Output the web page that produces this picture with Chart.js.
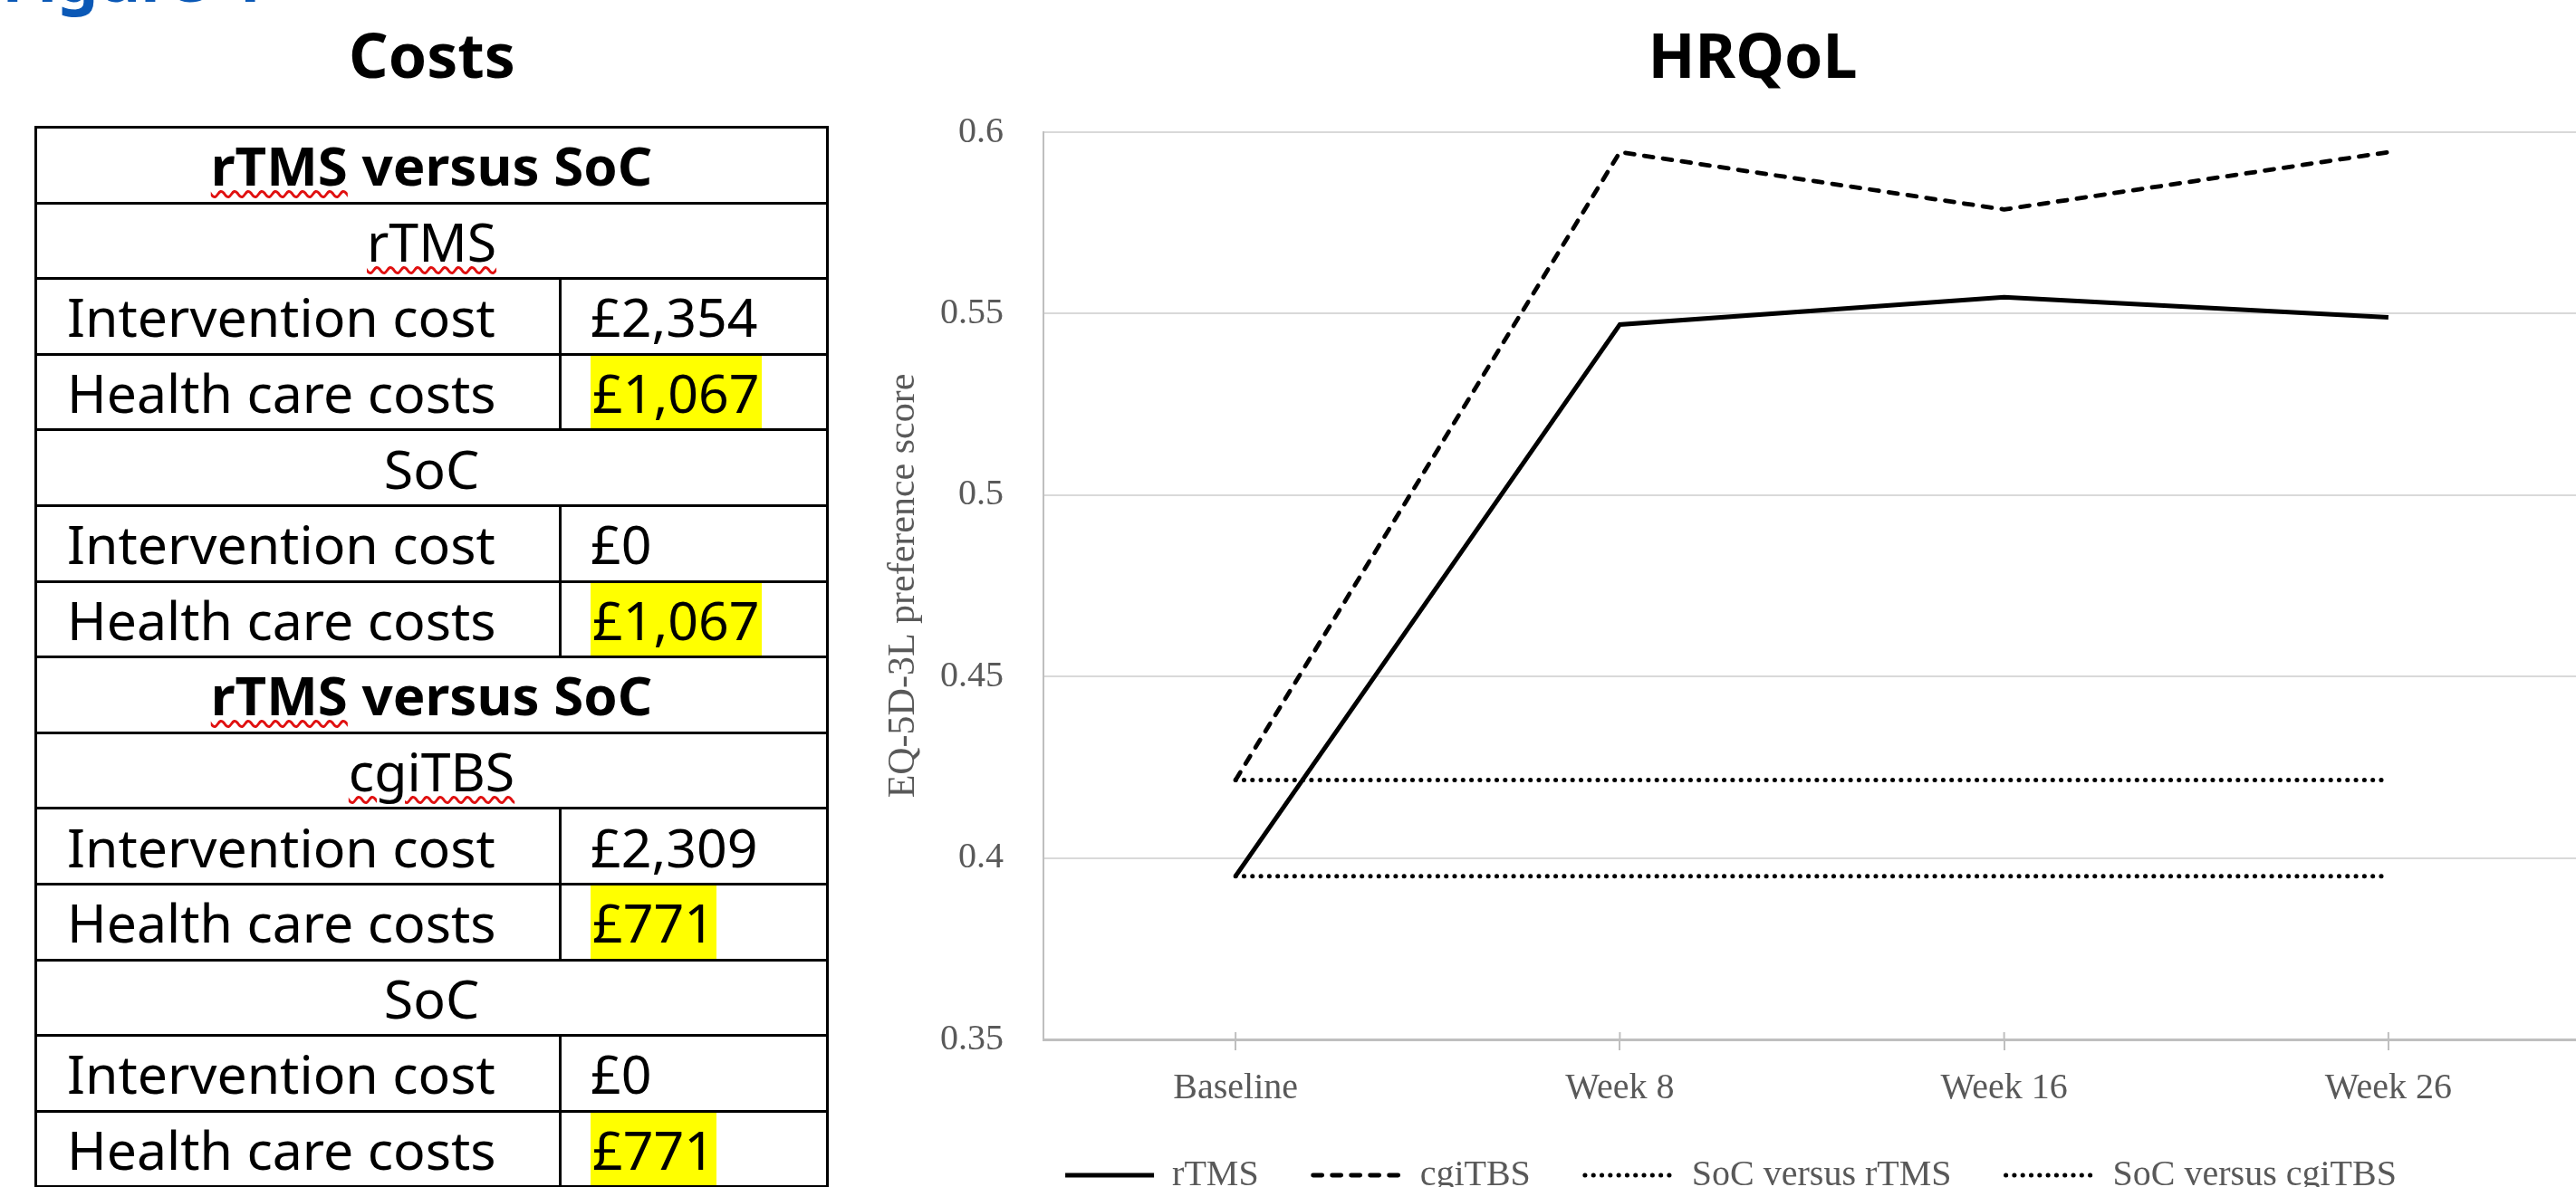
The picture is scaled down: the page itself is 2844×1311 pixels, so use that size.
<!DOCTYPE html>
<html>
<head>
<meta charset="utf-8">
<script src="https://cdn.jsdelivr.net/npm/chart.js@4.4.1/dist/chart.umd.min.js"></script>
<style>
  html, body { margin:0; padding:0; width:2844px; height:1311px; overflow:hidden; background:#ffffff; }
  body { position:relative; font-family:"Noto Sans", sans-serif; }
  #figlabel { position:absolute; left:2px; top:-62px; font:700 72px/72px "Noto Sans", sans-serif; color:#0a58b6; white-space:nowrap; }
  .ptitle { position:absolute; top:26px; font:700 68px/68px "Noto Sans", sans-serif; color:#000; white-space:nowrap; transform:translateX(-50%); }
  #costs { position:absolute; left:38px; top:139px; width:874px; border-collapse:collapse; table-layout:fixed; font:400 59px "Noto Sans", sans-serif; color:#000; }
  #costs td { border:3px solid #000; padding:0; height:80.6px; vertical-align:middle; white-space:nowrap; line-height:80px; }
  #costs td.hdr { text-align:center; font-weight:700; font-size:60px; }
  #costs td.sub { text-align:center; }
  #costs td.lbl { padding-left:33px; }
  #costs td.val { padding-left:32px; }
  .sq { text-decoration:underline wavy #e01010; text-decoration-thickness:3px; text-underline-offset:5px; }
  .hl { background:#ffff00; display:inline-block; height:80.6px; line-height:80px; padding:0 2px; vertical-align:top; }
  #chartwrap { position:absolute; left:973px; top:78px; width:1876px; height:1250px; }
</style>
</head>
<body>
<div id="figlabel">Figure 4</div>
<div class="ptitle" style="left:477px;">Costs</div>
<div class="ptitle" style="left:1935px;">HRQoL</div>
<table id="costs"><colgroup><col style="width:579px"><col style="width:295px"></colgroup><tbody id="costbody"></tbody></table>
<div id="chartwrap"><canvas id="c"></canvas></div>
<script>
// ---- Costs table data ----
const comparisonTitles = ['rTMS versus SoC', 'rTMS versus SoC'];
const groupNames = [['rTMS', 'SoC'], ['cgiTBS', 'SoC']];
const costLabels = ['Intervention cost', 'Health care costs'];
const interventionCosts = [['£2,354', '£0'], ['£2,309', '£0']];
const healthCareCosts = [['£1,067', '£1,067'], ['£771', '£771']];

// ---- HRQoL chart data ----
const categories = ['Baseline', 'Week 8', 'Week 16', 'Week 26'];
const rTMS = [0.395, 0.547, 0.5545, 0.549];
const cgiTBS = [0.4215, 0.5945, 0.5787, 0.5945];
const socVersusRTMS = [0.395, 0.395, 0.395, 0.395];
const socVersusCgiTBS = [0.4215, 0.4215, 0.4215, 0.4215];
const seriesNames = ['rTMS', 'cgiTBS', 'SoC versus rTMS', 'SoC versus cgiTBS'];
const yMin = 0.35, yMax = 0.6, yStep = 0.05;
const yTitle = 'EQ-5D-3L preference score';

// build table
(function () {
  const tb = document.getElementById('costbody');
  function squig(t) {
    return t.replace(/^(rTMS|cgiTBS)/, '<span class="sq">$1</span>');
  }
  comparisonTitles.forEach((title, ci) => {
    let tr = document.createElement('tr');
    tr.innerHTML = '<td class="hdr" colspan="2">' + squig(title) + '</td>';
    tb.appendChild(tr);
    groupNames[ci].forEach((g, gi) => {
      let r = document.createElement('tr');
      r.innerHTML = '<td class="sub" colspan="2">' + squig(g) + '</td>';
      tb.appendChild(r);
      r = document.createElement('tr');
      r.innerHTML = '<td class="lbl">' + costLabels[0] + '</td><td class="val">' + interventionCosts[ci][gi] + '</td>';
      tb.appendChild(r);
      r = document.createElement('tr');
      r.innerHTML = '<td class="lbl">' + costLabels[1] + '</td><td class="val"><span class="hl">' + healthCareCosts[ci][gi] + '</span></td>';
      tb.appendChild(r);
    });
  });
})();

const serif = '"Liberation Serif", "Times New Roman", serif';
const grey = '#595959';

const crossTicks = {
  id: 'crossTicks',
  afterDatasetsDraw(chart) {
    const s = chart.scales.x, ctx = chart.ctx;
    ctx.save();
    ctx.strokeStyle = '#bfbfbf';
    ctx.lineWidth = 2;
    s.ticks.forEach((t, i) => {
      const x = s.getPixelForTick(i);
      ctx.beginPath();
      ctx.moveTo(x, s.top - 8);
      ctx.lineTo(x, s.top);
      ctx.stroke();
    });
    ctx.restore();
  }
};

new Chart(document.getElementById('c'), {
  type: 'line',
  data: {
    labels: categories,
    datasets: [
      { label: seriesNames[0], data: rTMS, borderColor: '#000', backgroundColor: '#000', borderWidth: 5, borderCapStyle: 'butt', borderJoinStyle: 'miter' },
      { label: seriesNames[1], data: cgiTBS, borderColor: '#000', backgroundColor: '#000', borderWidth: 4.8, borderDash: [10, 11], borderCapStyle: 'round', borderJoinStyle: 'round' },
      { label: seriesNames[2], data: socVersusRTMS, borderColor: '#000', backgroundColor: '#000', borderWidth: 5, borderDash: [0.1, 9.2], borderCapStyle: 'round' },
      { label: seriesNames[3], data: socVersusCgiTBS, borderColor: '#000', backgroundColor: '#000', borderWidth: 5, borderDash: [0.1, 9.2], borderCapStyle: 'round' }
    ]
  },
  options: {
    responsive: true,
    maintainAspectRatio: false,
    animation: false,
    layout: { padding: { top: 13, left: 0, right: 0, bottom: 0 } },
    elements: { point: { radius: 0, hoverRadius: 0 }, line: { tension: 0 } },
    plugins: {
      tooltip: { enabled: false },
      title: { display: false },
      legend: {
        position: 'bottom',
        labels: {
          usePointStyle: true,
          pointStyle: 'line',
          pointStyleWidth: 98,
          padding: 60,
          color: grey,
          font: { family: serif, size: 40 },
          generateLabels(chart) {
            return chart.data.datasets.map((ds, i) => ({
              text: ds.label,
              fillStyle: ds.borderColor,
              strokeStyle: ds.borderColor,
              lineWidth: ds.borderWidth,
              lineDash: ds.borderDash || [],
              lineCap: ds.borderCapStyle || 'butt',
              lineJoin: 'round',
              pointStyle: 'line',
              fontColor: grey,
              hidden: false,
              datasetIndex: i
            }));
          }
        }
      }
    },
    scales: {
      x: {
        offset: true,
        grid: { display: true, drawOnChartArea: false, drawTicks: true, tickLength: 12, color: '#bfbfbf', lineWidth: 2, offset: false },
        border: { display: true, color: '#bfbfbf', width: 3 },
        ticks: { color: grey, font: { family: serif, size: 40 }, padding: 18, maxRotation: 0 },
        afterFit(s) { s.height = 70; }
      },
      y: {
        min: yMin, max: yMax,
        grid: { color: '#d9d9d9', lineWidth: 2, drawTicks: false },
        border: { display: true, color: '#bfbfbf', width: 2 },
        ticks: { stepSize: yStep, color: grey, font: { family: serif, size: 40 }, padding: 44,
          callback: v => String(Number(v.toFixed(2))) },
        title: { display: true, text: yTitle, color: grey, font: { family: serif, size: 42 }, padding: 0 },
        afterFit(s) { s.width = 179; }
      }
    }
  },
  plugins: [crossTicks]
});
</script>
</body>
</html>
